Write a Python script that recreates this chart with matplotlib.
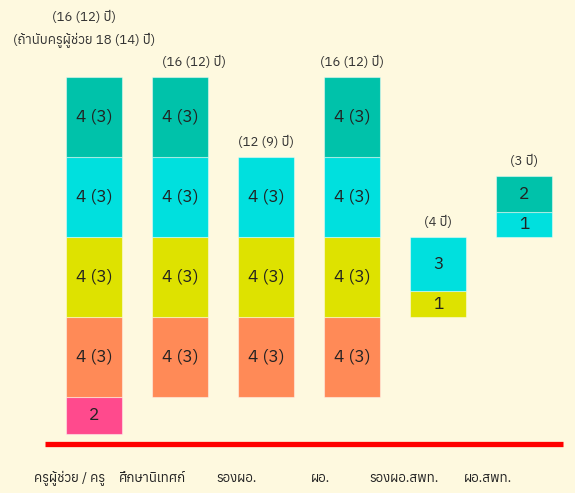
import numpy as np
import matplotlib
matplotlib.use('Agg')
import matplotlib.pyplot as plt
from matplotlib import font_manager

# Thai font: take the first one that is installed
names = {f.name for f in font_manager.fontManager.ttflist}
thai_font = 'DejaVu Sans'
for cand in ['Anuphan', 'Kanit', 'Prompt', 'Bai Jamjuree']:
    if cand in names:
        thai_font = cand
        break
plt.rcParams['font.family'] = [thai_font, 'DejaVu Sans']

positions = ['ครูผู้ช่วย / ครู', 'ศึกษานิเทศก์', 'รองผอ.', 'ผอ.', 'รองผอ.สพท.', 'ผอ.สพท.']
notes = ['(16 (12) ปี)\n(ถ้านับครูผู้ช่วย 18 (14) ปี)', '(16 (12) ปี)', '(12 (9) ปี)',
         '(16 (12) ปี)', '(4 ปี)', '(3 ปี)']

# segment edges (years) for each layer, None = no segment
pink_lo = [-1.87, None, None, None, None, None]
pink_hi = [0, None, None, None, None, None]
pink_txt = ['2', '', '', '', '', '']
orange_lo = [0, 0, 0, 0, None, None]
orange_hi = [4, 4, 4, 4, None, None]
orange_txt = ['4 (3)', '4 (3)', '4 (3)', '4 (3)', '', '']
yellow_lo = [4, 4, 4, 4, 4, None]
yellow_hi = [8, 8, 8, 8, 5.3, None]
yellow_txt = ['4 (3)', '4 (3)', '4 (3)', '4 (3)', '1', '']
cyan_lo = [8, 8, 8, 8, 5.3, 8]
cyan_hi = [12, 12, 12, 12, 8, 9.25]
cyan_txt = ['4 (3)', '4 (3)', '4 (3)', '4 (3)', '3', '1']
teal_lo = [12, 12, None, 12, None, 9.25]
teal_hi = [16, 16, None, 16, None, 11.05]
teal_txt = ['4 (3)', '4 (3)', '', '4 (3)', '', '2']

layers = [
    (pink_lo, pink_hi, pink_txt, '#FF4A8D'),
    (orange_lo, orange_hi, orange_txt, '#FF8A57'),
    (yellow_lo, yellow_hi, yellow_txt, '#DEE200'),
    (cyan_lo, cyan_hi, cyan_txt, '#00E0DE'),
    (teal_lo, teal_hi, teal_txt, '#00C2AA'),
]

bg = '#FEF9DF'
fig = plt.figure(figsize=(5.75, 4.93), dpi=100, facecolor=bg)
ax = fig.add_axes([0, 0, 1, 1])
ax.set_facecolor(bg)

x = np.arange(len(positions))
width = 0.65
tops = np.zeros(len(positions))
for lo, hi, txt, col in layers:
    for i in range(len(positions)):
        if lo[i] is None:
            continue
        ax.bar(x[i], hi[i] - lo[i], bottom=lo[i], width=width, color=col,
               edgecolor=(1, 1, 1, 0.45), linewidth=0.8)
        ax.text(x[i], (lo[i] + hi[i]) / 2, txt[i], ha='center', va='center',
                fontsize=12.5, color='#222222')
        tops[i] = max(tops[i], hi[i])

note_dx = [-0.12, 0.16, 0, 0, 0, 0]
for i, n in enumerate(notes):
    if '\n' in n:
        ax.text(x[i] + note_dx[i], tops[i] + 2.35, n, ha='center', va='center',
                fontsize=9.5, color='#333333', linespacing=1.8)
    else:
        ax.text(x[i] + note_dx[i], tops[i] + 0.7, n, ha='center', va='center',
                fontsize=9.5, color='#333333')

# red base line
ax.hlines(-2.35, -0.57, 5.45, color='#FF0000', linewidth=3.8)

# category labels sit a bit left of the bars
lab_x = x * 0.973 - 0.29
for i, p in enumerate(positions):
    ax.text(lab_x[i], -4.07, p, ha='center', va='center', fontsize=9.5, color='#222222')

ax.set_xlim(-1.092, 5.587)
ax.set_ylim(-4.815, 19.835)
ax.axis('off')

fig.savefig('out.png', dpi=100, facecolor=bg)
